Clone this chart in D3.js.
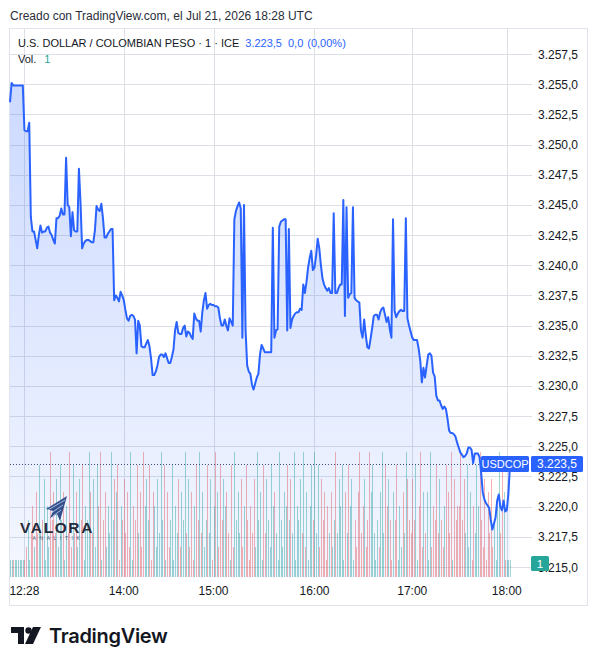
<!DOCTYPE html>
<html>
<head>
<meta charset="utf-8">
<script src="https://cdnjs.cloudflare.com/ajax/libs/d3/7.8.5/d3.min.js"></script>
<style>
  body { margin: 0; background: #fff; }
  svg { display: block; }
  text { font-family: "Liberation Sans", Arial, sans-serif; }
</style>
</head>
<body>
<svg width="598" height="664"></svg>
<script>
// USDCOP 1-minute closes, one value per bar
let prices = [
  3253.5, 3255.1, 3254.9, 3254.9, 3254.9, 3254.9, 3254.9, 3254.9, 3254.9, 3251.2,
  3251.1, 3251.1, 3251.8, 3244.0, 3242.8, 3242.8, 3242.1, 3241.4, 3242.5, 3243.3,
  3242.7, 3242.8, 3242.8, 3243.1, 3243.2, 3242.7, 3242.5, 3242.1, 3241.8, 3243.9,
  3243.9, 3244.1, 3244.7, 3244.2, 3244.2, 3248.9, 3245.0, 3244.8, 3242.4, 3244.4,
  3242.9, 3242.8, 3242.8, 3248.0, 3245.2, 3241.4, 3241.8, 3242.0, 3242.1, 3242.1,
  3242.0, 3241.9, 3241.9, 3242.9, 3244.9, 3244.6, 3244.5, 3245.1, 3243.9, 3242.3,
  3242.3, 3242.6, 3242.8, 3243.0, 3243.0, 3237.1, 3237.5, 3237.3, 3237.0, 3237.8,
  3237.5, 3237.1, 3236.3, 3235.6, 3235.4, 3235.8, 3235.9, 3235.8, 3235.5, 3232.7,
  3235.4, 3235.0, 3233.3, 3233.2, 3233.2, 3233.5, 3233.8, 3233.3, 3232.3, 3230.9,
  3230.9, 3231.2, 3231.7, 3232.4, 3232.6, 3232.6, 3232.4, 3232.7, 3232.3, 3231.9,
  3231.9, 3232.4, 3233.0, 3234.6, 3235.3, 3234.4, 3234.3, 3234.3, 3234.8, 3235.0,
  3234.1, 3234.5, 3234.4, 3234.1, 3233.9, 3236.0, 3235.6, 3235.4, 3235.4, 3234.5,
  3236.1, 3237.1, 3237.7, 3236.4, 3236.7, 3236.8, 3236.7, 3236.7, 3236.6, 3236.6,
  3236.5, 3235.6, 3235.0, 3235.0, 3235.5, 3235.0, 3234.6, 3235.6, 3235.3, 3235.0,
  3243.8, 3244.5, 3244.9, 3245.2, 3244.7, 3234.0, 3245.0, 3234.6, 3231.7, 3231.2,
  3231.0, 3230.1, 3229.7, 3230.2, 3230.7, 3231.0, 3232.6, 3233.4, 3233.1, 3232.8,
  3232.8, 3232.8, 3232.8, 3232.8, 3243.1, 3234.0, 3234.6, 3234.7, 3243.2, 3243.6,
  3243.7, 3243.8, 3243.8, 3234.6, 3243.0, 3234.8, 3235.5, 3235.8, 3236.0, 3236.1,
  3236.1, 3236.4, 3236.3, 3238.4, 3237.7, 3238.6, 3239.8, 3240.6, 3241.2, 3239.6,
  3239.8, 3240.8, 3242.2, 3241.4, 3240.0, 3238.9, 3238.4, 3238.1, 3237.9, 3238.1,
  3237.7, 3237.7, 3244.3, 3237.7, 3237.7, 3238.1, 3238.4, 3238.4, 3245.4, 3235.8,
  3244.8, 3237.3, 3237.6, 3237.7, 3244.8, 3237.3, 3237.1, 3237.0, 3236.9, 3234.6,
  3234.0, 3235.5, 3234.2, 3233.2, 3233.1, 3233.9, 3234.8, 3235.8, 3235.9, 3235.9,
  3235.5, 3236.1, 3236.4, 3236.5, 3235.9, 3235.3, 3235.7, 3234.7, 3234.0, 3243.8,
  3236.2, 3235.7, 3236.0, 3236.2, 3236.3, 3236.2, 3236.2, 3243.9, 3235.6, 3235.0,
  3234.5, 3234.0, 3233.8, 3233.8, 3233.8, 3233.1, 3232.1, 3230.3, 3231.5, 3230.7,
  3231.7, 3232.6, 3232.7, 3232.5, 3231.1, 3230.8, 3229.2, 3228.8, 3228.8, 3228.4,
  3228.1, 3228.3, 3228.1, 3227.3, 3226.3, 3226.1, 3226.1, 3226.0, 3225.8, 3225.3,
  3224.9, 3224.5, 3224.3, 3224.1, 3224.2, 3224.4, 3224.9, 3224.9, 3224.7, 3223.6,
  3224.4, 3224.4, 3224.4, 3224.1, 3222.8, 3221.2, 3220.6, 3220.3, 3220.1, 3219.9,
  3218.9, 3218.1, 3218.6, 3219.1, 3220.5, 3221.0, 3220.0, 3219.7, 3220.5, 3219.6,
  3219.7, 3221.1, 3223.5
];

let volumes = [
  1,1,1,1,1,1,1,1,1,1, 2,4,1,3,5,2,6,3,8,3, 4,7,1,5,2,9,4,6,3,7,
  2,8,4,6,1,5,3,9,2,8, 3,6,2,7,4,8,1,5,4,9, 6,3,7,2,8,5,9,1,4,6,
  2,5,3,9,4,7,6,8,1,5, 4,7,3,6,2,9,1,5,4,8, 3,6,2,9,5,7,4,8,1,6,
  5,2,7,3,9,4,8,1,6,2, 4,8,1,5,3,7,2,6,4,9, 3,7,2,6,1,5,8,4,9,3,
  6,2,4,8,3,7,1,5,9,6, 2,8,4,7,5,6,3,1,8,2, 9,4,6,3,7,2,5,8,4,1,
  5,3,7,2,9,4,6,1,8,3, 7,4,2,8,5,6,3,1,9,4, 2,6,5,8,4,7,3,9,1,5,
  4,7,3,9,2,6,1,5,8,4, 9,3,8,2,7,4,6,1,5,3, 6,2,4,9,3,7,5,8,1,6,
  3,8,5,7,1,4,2,6,9,3, 5,7,2,4,9,6,8,3,1,4, 2,6,9,3,8,5,7,4,1,6,
  4,8,1,5,2,6,3,9,7,4, 3,7,4,8,1,5,9,2,6,3, 6,1,9,2,5,4,8,3,7,4,
  2,5,8,6,3,9,1,7,4,5, 5,9,4,7,3,8,2,6,1,5, 3,8,5,9,4,2,7,1,6,3,
  7,2,4,1,5,9,3,8,6,1, 1,1,1
];

let priceTicks = [3215, 3217.5, 3220, 3222.5, 3225, 3227.5, 3230, 3232.5, 3235,
  3237.5, 3240, 3242.5, 3245, 3247.5, 3250, 3252.5, 3255, 3257.5];
let timeTickIndex = [9, 71, 127, 190, 251, 310];
let timeTickLabels = ['12:28', '14:00', '15:00', '16:00', '17:00', '18:00'];

let symbolName = 'U.S. DOLLAR / COLOMBIAN PESO \u00b7 1 \u00b7 ICE';
let changeAbs = 0.0;
let changePct = 0.00;
let lastVolume = 1;

var svg = d3.select('svg');

let es = d3.formatLocale({ decimal: ',', thousands: '.', grouping: [3], currency: ['$', ''] });
let priceFmt = es.format(',.1f');
let pctFmt = es.format('.2f');

let x = d3.scaleLinear().domain([0, prices.length - 1]).range([10, 510]);
let y = d3.scaleLinear().domain([3215, 3257.5]).range([567, 54]);
let yVol = d3.scaleLinear().domain([0, 10]).range([574, 438]);
let plotBottom = 577;

// credit line
svg.append('text')
  .attr('x', 10).attr('y', 19.5)
  .style('font-size', '12px').style('fill', '#2a2e39')
  .text('Creado con TradingView.com, el Jul 21, 2026 18:28 UTC');

// chart frame
svg.append('rect')
  .attr('x', 9.5).attr('y', 28.5).attr('width', 578).attr('height', 577)
  .attr('fill', 'none').attr('stroke', '#e0e3eb');

// grid
let grid = svg.append('g').attr('id', 'grid').attr('stroke', '#dcdfe6').attr('shape-rendering', 'crispEdges');
grid.selectAll('line.h').data(priceTicks).enter().append('line')
  .attr('class', 'h')
  .attr('x1', 10).attr('x2', 532)
  .attr('y1', d => Math.round(y(d)) + 0.5).attr('y2', d => Math.round(y(d)) + 0.5);
grid.selectAll('line.v').data(timeTickIndex).enter().append('line')
  .attr('class', 'v')
  .attr('y1', 29).attr('y2', plotBottom)
  .attr('x1', d => Math.round(x(d)) + 0.5).attr('x2', d => Math.round(x(d)) + 0.5);

// volume bars, coloured by direction of the close
let vol = svg.append('g').attr('id', 'volume').attr('shape-rendering', 'crispEdges');
vol.selectAll('rect').data(volumes).enter().append('rect')
  .attr('x', (d, i) => Math.round(x(i)))
  .attr('width', 1)
  .attr('y', d => yVol(d))
  .attr('height', d => plotBottom - yVol(d))
  .attr('fill', (d, i) => (i > 0 && prices[i] < prices[i - 1]) ? 'rgba(239,83,80,0.45)' : 'rgba(38,166,154,0.45)');

// area gradient
let defs = svg.append('defs');
let grad = defs.append('linearGradient').attr('id', 'areaFill')
  .attr('gradientUnits', 'userSpaceOnUse')
  .attr('x1', 0).attr('x2', 0).attr('y1', 80).attr('y2', plotBottom);
grad.append('stop').attr('offset', 0).attr('stop-color', 'rgba(41,98,255,0.24)');
grad.append('stop').attr('offset', 1).attr('stop-color', 'rgba(41,98,255,0.05)');

let area = d3.area()
  .x((d, i) => x(i))
  .y0(plotBottom)
  .y1(d => y(d));
let line = d3.line()
  .x((d, i) => x(i))
  .y(d => y(d));

svg.append('path').datum(prices)
  .attr('d', area)
  .attr('fill', 'url(#areaFill)');

// watermark logo
let wm = svg.append('g').attr('id', 'watermark');
wm.append('path')
  .attr('d', 'M46,509 L67,496 L60,521 L57,514 L50,518 L53,511 Z')
  .attr('fill', '#34508c');
wm.append('path')
  .attr('d', 'M48,510 L65,500 M51,513 L63,505 M53,516 L61,510')
  .attr('stroke', '#c8d4ee').attr('stroke-width', 0.8);
wm.append('text')
  .attr('x', 57).attr('y', 533).attr('text-anchor', 'middle')
  .style('font-size', '15.5px').style('font-weight', 'bold').style('letter-spacing', '1.6px')
  .style('fill', '#262b3a')
  .text('VALORA');
wm.append('text')
  .attr('x', 58).attr('y', 540).attr('text-anchor', 'middle')
  .style('font-size', '5px').style('letter-spacing', '3.6px')
  .style('fill', '#555b6a')
  .text('ANALITIK');

// price line
svg.append('path').datum(prices)
  .attr('d', line)
  .attr('fill', 'none')
  .attr('stroke', '#2962ff')
  .attr('stroke-width', 2)
  .attr('stroke-linejoin', 'round');

let last = prices[prices.length - 1];
let lastY = Math.round(y(last)) + 0.5;

// dotted last-price line
svg.append('line')
  .attr('x1', 10).attr('x2', 481)
  .attr('y1', lastY).attr('y2', lastY)
  .attr('stroke', '#3f4c7c').attr('stroke-width', 1)
  .attr('stroke-dasharray', '1,2');

// price axis labels
let axis = svg.append('g').attr('id', 'price-axis');
axis.selectAll('text').data(priceTicks).enter().append('text')
  .attr('x', 538)
  .attr('y', d => y(d) + 4.5)
  .style('font-size', '12px').style('fill', '#131722')
  .text(d => priceFmt(d));

// time axis labels
svg.append('g').attr('id', 'time-axis')
  .selectAll('text').data(timeTickIndex).enter().append('text')
  .attr('x', d => x(d))
  .attr('y', 595)
  .attr('text-anchor', 'middle')
  .style('font-size', '12px').style('fill', '#131722')
  .text((d, i) => timeTickLabels[i]);

// symbol + last price badges
let badge = svg.append('g').attr('transform', translate(0, lastY - 8.5));
badge.append('rect').attr('x', 481).attr('y', 0).attr('width', 48).attr('height', 16)
  .attr('rx', 1.5).attr('fill', '#2962ff');
badge.append('text').attr('x', 505).attr('y', 12.2).attr('text-anchor', 'middle')
  .style('font-size', '11px').style('fill', '#fff').text('USDCOP');
badge.append('rect').attr('x', 531).attr('y', 0).attr('width', 52).attr('height', 16)
  .attr('rx', 1.5).attr('fill', '#2962ff');
badge.append('text').attr('x', 557).attr('y', 12.2).attr('text-anchor', 'middle')
  .style('font-size', '12px').style('fill', '#fff').text(priceFmt(last));

// volume badge (sits over the lowest price label, as in the source)
let vb = svg.append('g').attr('transform', translate(531, 556));
vb.append('rect').attr('width', 18).attr('height', 15).attr('rx', 1.5).attr('fill', '#26a69a');
vb.append('text').attr('x', 9).attr('y', 11.5).attr('text-anchor', 'middle')
  .style('font-size', '11.5px').style('fill', '#fff').text(lastVolume);

// legend
let legend = svg.append('text').attr('x', 18).attr('y', 46.5).style('font-size', '11px');
legend.append('tspan').style('fill', '#131722').text(symbolName);
legend.append('tspan').attr('dx', 6).style('fill', '#2962ff').text(priceFmt(last));
legend.append('tspan').attr('dx', 6).style('fill', '#2962ff').text(priceFmt(changeAbs));
legend.append('tspan').attr('dx', 4).style('fill', '#2962ff').text('(' + pctFmt(changePct) + '%)');

let volLegend = svg.append('text').attr('x', 18).attr('y', 62.5).style('font-size', '11px');
volLegend.append('tspan').style('fill', '#131722').text('Vol.');
volLegend.append('tspan').attr('dx', 8).style('fill', '#26a69a').text(lastVolume);

// TradingView logo
let tv = svg.append('g').attr('id', 'tv-logo').attr('fill', '#131722');
tv.append('path').attr('d', 'M11,627 H24 V644 H18 V633 H11 Z');
tv.append('circle').attr('cx', 28.5).attr('cy', 630.5).attr('r', 3.2);
tv.append('path').attr('d', 'M33,627 H41 L33,644 H25 Z');
tv.append('text')
  .attr('x', 49).attr('y', 643)
  .style('font-family', 'Inter, "Liberation Sans", sans-serif')
  .style('font-size', '20px').style('font-weight', '600').style('letter-spacing', '-0.3px')
  .text('TradingView');

function translate(x, y) {
  return `translate(${x},${y})`;
}
</script>
</body>
</html>
